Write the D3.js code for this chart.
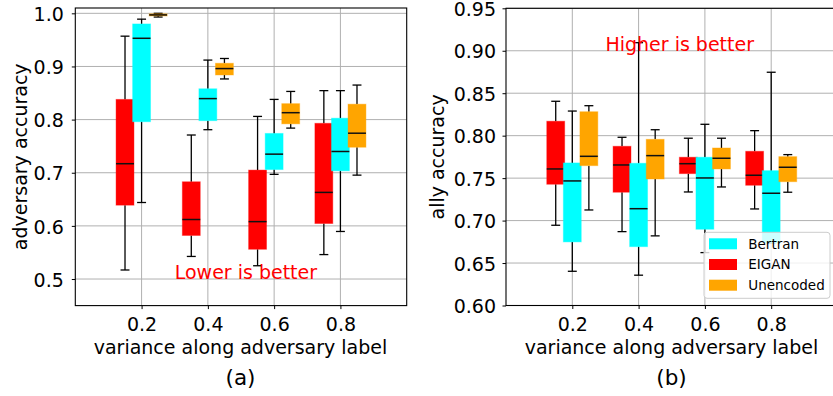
<!DOCTYPE html>
<html>
	<head>
		<script type="text/javascript" src="https://cdn.jsdelivr.net/npm/d3@7/dist/d3.min.js"></script>
		<style>
			body { margin: 0; background: #fff; }
			text { font-family: "DejaVu Sans", sans-serif; }
		</style>
	</head>
	<body>
		<svg id="viz"></svg>
		<script>
			// x positions (variance along adversary label)
			var variances = [0.2, 0.4, 0.6, 0.8];
			var xTicks = [0.2, 0.4, 0.6, 0.8];
			var advTicks = [0.5, 0.6, 0.7, 0.8, 0.9, 1.0];
			var allyTicks = [0.60, 0.65, 0.70, 0.75, 0.80, 0.85, 0.90, 0.95];

			// each box: [whisker low, q1, median, q3, whisker high]
			var advEIGAN = [
				[0.517, 0.639, 0.717, 0.838, 0.957],
				[0.5425, 0.582, 0.612, 0.683, 0.771],
				[0.525, 0.556, 0.608, 0.705, 0.806],
				[0.546, 0.6045, 0.663, 0.793, 0.8545]
			];
			var advBertran = [
				[0.644, 0.796, 0.953, 0.980, 0.989],
				[0.781, 0.798, 0.8395, 0.858, 0.912],
				[0.697, 0.706, 0.735, 0.774, 0.838],
				[0.5895, 0.7036, 0.740, 0.8026, 0.8545]
			];
			var advUnencoded = [
				[0.993, 0.995, 0.997, 0.999, 1.0],
				[0.8765, 0.884, 0.896, 0.906, 0.915],
				[0.784, 0.792, 0.813, 0.830, 0.853],
				[0.6955, 0.748, 0.7744, 0.829, 0.865]
			];

			var allyEIGAN = [
				[0.6945, 0.7428, 0.7608, 0.817, 0.8405],
				[0.687, 0.7334, 0.7655, 0.7875, 0.7981],
				[0.7337, 0.7553, 0.767, 0.7746, 0.797],
				[0.7137, 0.7416, 0.7534, 0.7816, 0.8059]
			];
			var allyBertran = [
				[0.6403, 0.6749, 0.7467, 0.7679, 0.829],
				[0.6357, 0.6693, 0.714, 0.7675, 0.9095],
				[0.6623, 0.6898, 0.7502, 0.7746, 0.8134],
				[0.6737, 0.6737, 0.7322, 0.7588, 0.8747]
			];
			var allyUnencoded = [
				[0.7125, 0.7647, 0.7757, 0.8282, 0.8353],
				[0.682, 0.749, 0.7765, 0.7957, 0.807],
				[0.7396, 0.7608, 0.7734, 0.7855, 0.797],
				[0.7334, 0.7458, 0.7628, 0.7753, 0.7777]
			];

			var seriesNames = ["EIGAN", "Bertran", "Unencoded"];
			var seriesColors = {"EIGAN": "#ff0000", "Bertran": "#00ffff", "Unencoded": "#ffa500"};
			var seriesOffsets = {"EIGAN": -0.05, "Bertran": 0, "Unencoded": 0.05};
			var legendOrder = ["Bertran", "EIGAN", "Unencoded"];
			var boxWidth = 0.054;

			var width = 833, height = 396;
			var svg = d3.select("#viz").attr("width", width).attr("height", height);

			function drawPanel(opts) {
				var x = d3.scaleLinear().domain([0, 1]).range([opts.left, opts.right]);
				var y = d3.scaleLinear().domain(opts.ydomain).range([opts.bottom, opts.top]);
				var g = svg.append("g");

				// grid
				g.selectAll("line.gx").data(xTicks).enter().append("line")
					.attr("x1", function(d) { return x(d); }).attr("x2", function(d) { return x(d); })
					.attr("y1", opts.top).attr("y2", opts.bottom)
					.attr("stroke", "#b0b0b0").attr("stroke-width", 1);
				g.selectAll("line.gy").data(opts.yticks).enter().append("line")
					.attr("x1", opts.left).attr("x2", opts.right)
					.attr("y1", function(d) { return y(d); }).attr("y2", function(d) { return y(d); })
					.attr("stroke", "#b0b0b0").attr("stroke-width", 1);

				var bw = x(boxWidth) - x(0);

				seriesNames.forEach(function(name) {
					var boxes = opts.data[name].map(function(b, i) {
						return {"cx": x(variances[i] + seriesOffsets[name]), "v": b};
					});
					var bg = g.append("g");
					// whiskers
					bg.selectAll("line.wl").data(boxes).enter().append("line")
						.attr("x1", function(d) { return d.cx; }).attr("x2", function(d) { return d.cx; })
						.attr("y1", function(d) { return y(d.v[0]); }).attr("y2", function(d) { return y(d.v[1]); })
						.attr("stroke", "#000").attr("stroke-width", 1.3);
					bg.selectAll("line.wh").data(boxes).enter().append("line")
						.attr("x1", function(d) { return d.cx; }).attr("x2", function(d) { return d.cx; })
						.attr("y1", function(d) { return y(d.v[3]); }).attr("y2", function(d) { return y(d.v[4]); })
						.attr("stroke", "#000").attr("stroke-width", 1.3);
					// caps
					[0, 4].forEach(function(k) {
						bg.selectAll("line.cap" + k).data(boxes).enter().append("line")
							.attr("x1", function(d) { return d.cx - bw / 4; }).attr("x2", function(d) { return d.cx + bw / 4; })
							.attr("y1", function(d) { return y(d.v[k]); }).attr("y2", function(d) { return y(d.v[k]); })
							.attr("stroke", "#000").attr("stroke-width", 1.3);
					});
					// box
					bg.selectAll("rect").data(boxes).enter().append("rect")
						.attr("x", function(d) { return d.cx - bw / 2; })
						.attr("width", bw)
						.attr("y", function(d) { return y(d.v[3]); })
						.attr("height", function(d) { return y(d.v[1]) - y(d.v[3]); })
						.attr("fill", seriesColors[name])
						.attr("stroke", seriesColors[name]).attr("stroke-opacity", 0.4).attr("stroke-width", 1);
					// median
					bg.selectAll("line.med").data(boxes).enter().append("line")
						.attr("x1", function(d) { return d.cx - bw / 2; }).attr("x2", function(d) { return d.cx + bw / 2; })
						.attr("y1", function(d) { return y(d.v[2]); }).attr("y2", function(d) { return y(d.v[2]); })
						.attr("stroke", "#111").attr("stroke-width", 1.5);
				});

				// axes
				var xAxis = d3.axisBottom(x).tickValues(xTicks).tickSize(3.5).tickPadding(5).tickFormat(d3.format(".1f"));
				var yAxis = d3.axisLeft(y).tickValues(opts.yticks).tickSize(3.5).tickPadding(opts.ypad).tickFormat(d3.format(opts.yfmt));
				var ax = g.append("g").attr("transform", "translate(0," + opts.bottom + ")").call(xAxis);
				var ay = g.append("g").attr("transform", "translate(" + opts.left + ",0)").call(yAxis);
				[ax, ay].forEach(function(a) {
					a.select(".domain").remove();
					a.selectAll("line").attr("stroke", "#000").attr("stroke-width", 1);
					a.selectAll("text").attr("fill", "#000").style("font-size", "19px");
				});
				ax.selectAll("text").attr("dy", null).attr("y", 25);
				ay.selectAll("text").attr("dy", "0.38em");

				// frame
				g.append("rect")
					.attr("x", opts.left).attr("y", opts.top)
					.attr("width", opts.right - opts.left).attr("height", opts.bottom - opts.top)
					.attr("fill", "none").attr("stroke", "#000").attr("stroke-width", 1.1);

				// labels
				g.append("text").attr("x", opts.labelX).attr("y", 354)
					.attr("text-anchor", "middle").style("font-size", "19px")
					.text("variance along adversary label");
				g.append("text").attr("x", opts.labelX).attr("y", 385)
					.attr("text-anchor", "middle").style("font-size", "21.5px")
					.text(opts.caption);
				g.append("text")
					.attr("transform", "translate(" + opts.ylabelX + "," + ((opts.top + opts.bottom) / 2) + ") rotate(-90)")
					.attr("text-anchor", "middle").style("font-size", "19px")
					.text(opts.ylabel);
				g.append("text").attr("x", x(0.3)).attr("y", y(opts.note[1]))
					.attr("fill", "#ff0000").style("font-size", "19px")
					.text(opts.note[0]);

				return {"x": x, "y": y};
			}

			drawPanel({
				left: 75.3, right: 406.7, top: 8, bottom: 305.6,
				ydomain: [0.45, 1.01], yticks: advTicks, yfmt: ".1f", ypad: 8,
				data: {"EIGAN": advEIGAN, "Bertran": advBertran, "Unencoded": advUnencoded},
				labelX: 240.5, caption: "(a)", ylabelX: 27, ylabel: "adversary accuracy",
				note: ["Lower is better", 0.5]
			});
			drawPanel({
				left: 506, right: 837.5, top: 8.3, bottom: 305.5,
				ydomain: [0.6, 0.95], yticks: allyTicks, yfmt: ".2f", ypad: 6.5,
				data: {"EIGAN": allyEIGAN, "Bertran": allyBertran, "Unencoded": allyUnencoded},
				labelX: 671.5, caption: "(b)", ylabelX: 444, ylabel: "ally accuracy",
				note: ["Higher is better", 0.9]
			});

			// legend
			var legend = svg.append("g").attr("transform", "translate(704,232.3)");
			legend.append("rect").attr("width", 126).attr("height", 66).attr("rx", 3)
				.attr("fill", "#fff").attr("fill-opacity", 0.8)
				.attr("stroke", "#cccccc").attr("stroke-width", 1);
			var items = legend.selectAll("g.item").data(legendOrder).enter().append("g")
				.attr("transform", function(d, i) { return "translate(0," + (11.5 + i * 20.7) + ")"; });
			items.append("rect").attr("x", 5).attr("y", -5.5).attr("width", 28).attr("height", 11)
				.attr("fill", function(d) { return seriesColors[d]; });
			items.append("text").attr("x", 44.3).attr("y", 0).attr("dy", "0.36em")
				.style("font-size", "13.5px").text(function(d) { return d; });
		</script>
	</body>
</html>
